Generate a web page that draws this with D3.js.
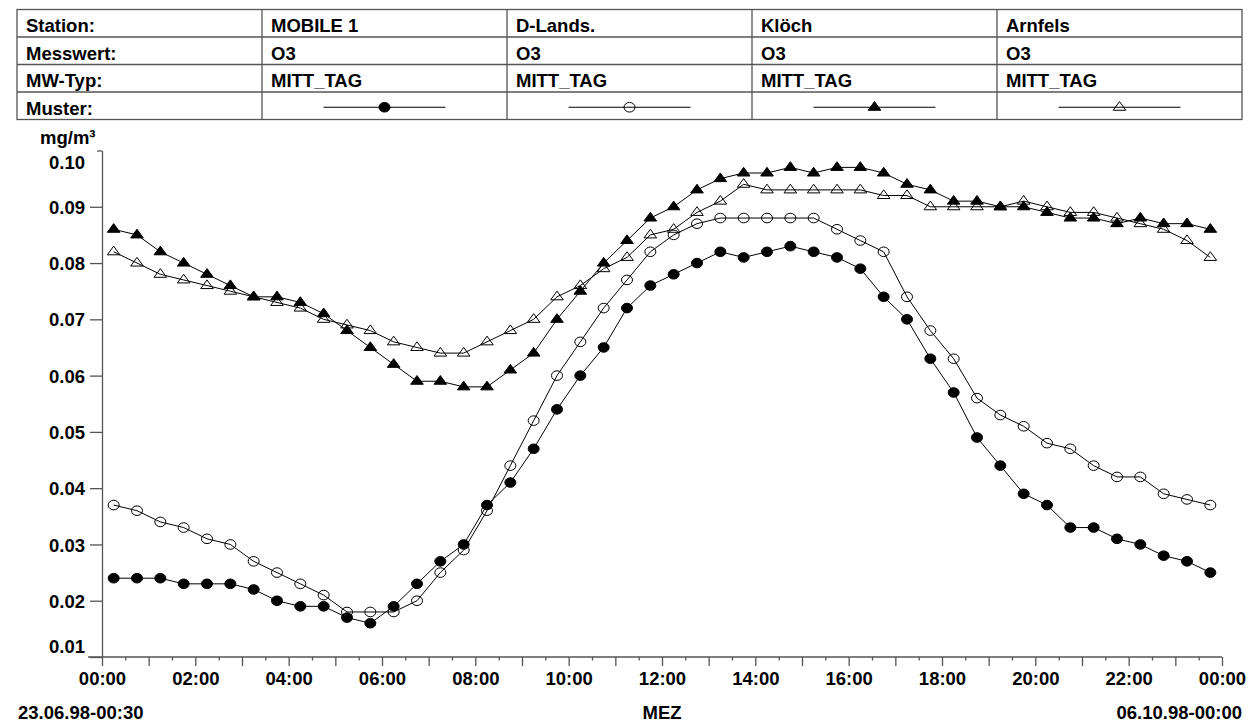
<!DOCTYPE html>
<head>
    <meta charset="utf-8">
    <title>O3 MITT_TAG</title>
    <script src="https://d3js.org/d3.v7.min.js"></script>
    <style>
        body { margin: 0; background: #fff; }
        text { font-family: "Liberation Sans", Arial, sans-serif; font-weight: bold; font-size: 18.5px; fill: #000; }
    </style>
</head>
<body>
<div id="chart"></div>
<script>
// half-hour means, 00:15 ... 23:45
const times = d3.range(48).map(i => 0.25 + i * 0.5)

const stations = ["MOBILE 1", "D-Lands.", "Klöch", "Arnfels"]
const messwert = ["O3", "O3", "O3", "O3"]
const mwTyp = ["MITT_TAG", "MITT_TAG", "MITT_TAG", "MITT_TAG"]
const rowLabels = ["Station:", "Messwert:", "MW-Typ:", "Muster:"]

const mobile1 = [0.024,0.024,0.024,0.023,0.023,0.023,0.022,0.020,0.019,0.019,0.017,0.016,
                 0.019,0.023,0.027,0.030,0.037,0.041,0.047,0.054,0.060,0.065,0.072,0.076,
                 0.078,0.080,0.082,0.081,0.082,0.083,0.082,0.081,0.079,0.074,0.070,0.063,
                 0.057,0.049,0.044,0.039,0.037,0.033,0.033,0.031,0.030,0.028,0.027,0.025]
const dLands = [0.037,0.036,0.034,0.033,0.031,0.030,0.027,0.025,0.023,0.021,0.018,0.018,
                0.018,0.020,0.025,0.029,0.036,0.044,0.052,0.060,0.066,0.072,0.077,0.082,
                0.085,0.087,0.088,0.088,0.088,0.088,0.088,0.086,0.084,0.082,0.074,0.068,
                0.063,0.056,0.053,0.051,0.048,0.047,0.044,0.042,0.042,0.039,0.038,0.037]
const kloech = [0.086,0.085,0.082,0.080,0.078,0.076,0.074,0.074,0.073,0.071,0.068,0.065,
                0.062,0.059,0.059,0.058,0.058,0.061,0.064,0.070,0.075,0.080,0.084,0.088,
                0.090,0.093,0.095,0.096,0.096,0.097,0.096,0.097,0.097,0.096,0.094,0.093,
                0.091,0.091,0.090,0.090,0.089,0.088,0.088,0.087,0.088,0.087,0.087,0.086]
const arnfels = [0.082,0.080,0.078,0.077,0.076,0.075,0.074,0.073,0.072,0.070,0.069,0.068,
                 0.066,0.065,0.064,0.064,0.066,0.068,0.070,0.074,0.076,0.079,0.081,0.085,
                 0.086,0.089,0.091,0.094,0.093,0.093,0.093,0.093,0.093,0.092,0.092,0.090,
                 0.090,0.090,0.090,0.091,0.090,0.089,0.089,0.088,0.087,0.086,0.084,0.081]

const yTicks = [0.01,0.02,0.03,0.04,0.05,0.06,0.07,0.08,0.09,0.10]
const hourTicks = d3.range(0, 24.01, 0.5)

const startLabel = "23.06.98-00:30"
const endLabel = "06.10.98-00:00"
const xTitle = "MEZ"
const yUnit = "mg/m³"

// marker type per station, same order as stations
const markers = ["dot", "circle", "tri", "opentri"]
const series = [mobile1, dLands, kloech, arnfels]

const W = 1250, H = 724
const svg = d3.select("#chart").append("svg").attr("width", W).attr("height", H)

// ---- header table
const tx0 = 17, colW = 245, ty0 = 9.5, rowH = 27.5
const tab = svg.append("g")
tab.append("rect")
    .attr("x", tx0).attr("y", ty0).attr("width", colW * 5).attr("height", rowH * 4)
    .attr("fill", "none").attr("stroke", "#555").attr("stroke-width", 1.3)
for (let r = 1; r < 4; r++) {
    tab.append("line").attr("x1", tx0).attr("x2", tx0 + colW * 5)
        .attr("y1", ty0 + r * rowH).attr("y2", ty0 + r * rowH)
        .attr("stroke", "#555").attr("stroke-width", 1.3)
}
for (let c = 1; c < 5; c++) {
    tab.append("line").attr("y1", ty0).attr("y2", ty0 + rowH * 4)
        .attr("x1", tx0 + c * colW).attr("x2", tx0 + c * colW)
        .attr("stroke", "#555").attr("stroke-width", 1.3)
}
const cellText = (col, row, s) => tab.append("text")
    .attr("x", tx0 + col * colW + 9)
    .attr("y", ty0 + row * rowH + rowH / 2 + 8.8)
    .text(s)
rowLabels.forEach((s, r) => cellText(0, r, s))
stations.forEach((s, i) => cellText(i + 1, 0, s))
messwert.forEach((s, i) => cellText(i + 1, 1, s))
mwTyp.forEach((s, i) => cellText(i + 1, 2, s))

// ---- scales
const x = d3.scaleLinear().domain([0, 24]).range([102, 1222])
const y = d3.scaleLinear().domain([0.01, 0.10]).range([657, 150.5])

function drawMarker(g, type, cx, cy) {
    if (type === "dot" || type === "circle") {
        g.append("ellipse").attr("cx", cx).attr("cy", cy).attr("rx", 5.5).attr("ry", 4.8)
            .attr("fill", type === "dot" ? "#000" : "none")
            .attr("stroke", "#000").attr("stroke-width", 1)
    } else {
        g.append("path")
            .attr("d", `M${cx - 6.3},${cy + 3}L${cx + 6.3},${cy + 3}L${cx},${cy - 5.7}Z`)
            .attr("fill", type === "tri" ? "#000" : "none")
            .attr("stroke", "#000").attr("stroke-width", 1)
    }
}

// legend "Muster" row
markers.forEach((m, i) => {
    const cx = tx0 + (i + 1) * colW + colW / 2
    const cy = ty0 + 3 * rowH + rowH / 2 + 1.5
    tab.append("line").attr("x1", cx - 61).attr("x2", cx + 61).attr("y1", cy).attr("y2", cy)
        .attr("stroke", "#000").attr("stroke-width", 1)
    drawMarker(tab, m, cx, cy)
})

// ---- axes
const axisCol = "#555"
const gy = svg.append("g").attr("transform", "translate(102,0)")
    .call(d3.axisLeft(y).tickValues(yTicks).tickSize(12).tickSizeOuter(0).tickFormat(d3.format(".2f")))
gy.select(".domain").attr("stroke", axisCol).attr("stroke-width", 1.3)
gy.selectAll(".tick line").attr("stroke", axisCol).attr("stroke-width", 1.3)
gy.selectAll(".tick line").filter(d => d === 0.10).attr("x2", -5)
gy.selectAll(".tick text")
    .attr("x", -17).attr("dy", null).attr("y", 6.6)
gy.selectAll(".tick text").filter(d => d === 0.10).attr("y", 17.5)
gy.selectAll(".tick text").filter(d => d === 0.01).attr("y", -4.5)

const gx = svg.append("g").attr("transform", "translate(0,657)")
    .call(d3.axisBottom(x).tickValues(hourTicks).tickSizeOuter(0)
        .tickFormat(d => d % 2 === 0 ? d3.format("02d")(d % 24) + ":00" : ""))
gx.select(".domain").remove()
gx.append("line").attr("x1", 88).attr("x2", 1222).attr("stroke", axisCol).attr("stroke-width", 1.3)
gx.selectAll(".tick line").attr("stroke", axisCol).attr("stroke-width", 1.3)
    .attr("y2", d => d % 1 === 0 ? 9 : 3.5)
gx.selectAll(".tick text").attr("dy", null).attr("y", 27.6)
svg.selectAll(".tick text").attr("fill", "#000")
svg.selectAll("g").attr("font-size", null).attr("font-family", null)

svg.append("text").attr("x", 40).attr("y", 144).text(yUnit)
svg.append("text").attr("x", 18).attr("y", 719).text(startLabel)
svg.append("text").attr("x", 662).attr("y", 719).attr("text-anchor", "middle").text(xTitle)
svg.append("text").attr("x", 1242).attr("y", 719).attr("text-anchor", "end").text(endLabel)

// ---- data, drawn back to front
const line = d3.line().x((d, i) => x(times[i])).y(d => y(d))
const plot = svg.append("g")
for (let k = series.length - 1; k >= 0; k--) {
    const g = plot.append("g")
    g.append("path").datum(series[k]).attr("d", line)
        .attr("fill", "none").attr("stroke", "#000").attr("stroke-width", 1)
    series[k].forEach((v, i) => drawMarker(g, markers[k], x(times[i]), y(v)))
}
</script>
</body>
</html>
